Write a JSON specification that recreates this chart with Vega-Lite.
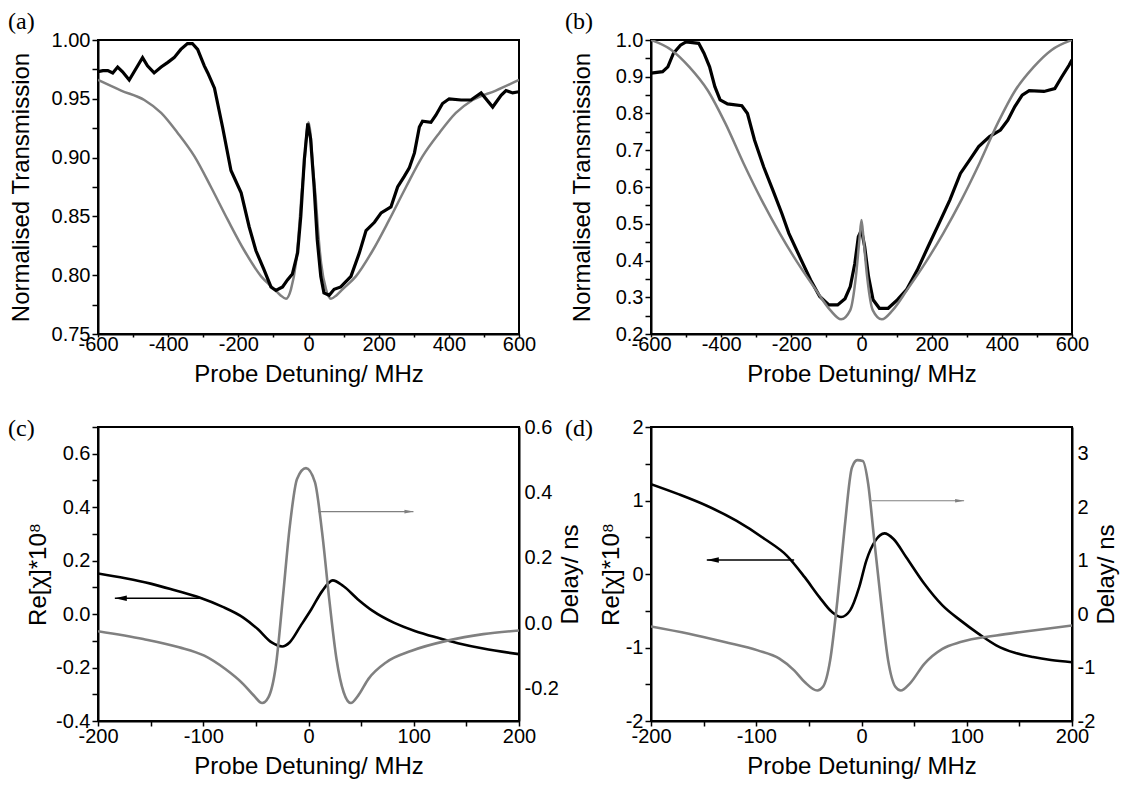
{
  "$schema": "https://vega.github.io/schema/vega-lite/v6.json",
  "background": "white",
  "autosize": {"type": "pad"},
  "padding": {"left": 7, "top": 9, "right": 5, "bottom": 5},
  "columns": 2,
  "bounds": "flush",
  "spacing": {"row": 93, "column": 132},
  "datasets": {
    "a_data": [
      {"x": -600, "y": 0.973}, {"x": -586, "y": 0.974}, {"x": -572, "y": 0.974}, {"x": -558, "y": 0.972}, {"x": -544, "y": 0.977},
      {"x": -530, "y": 0.973}, {"x": -511, "y": 0.966}, {"x": -497, "y": 0.973}, {"x": -483, "y": 0.98}, {"x": -473, "y": 0.985},
      {"x": -459, "y": 0.978}, {"x": -440, "y": 0.972}, {"x": -420, "y": 0.977}, {"x": -401, "y": 0.981}, {"x": -383, "y": 0.985},
      {"x": -364, "y": 0.992}, {"x": -345, "y": 0.997}, {"x": -331, "y": 0.997}, {"x": -316, "y": 0.992}, {"x": -297, "y": 0.978},
      {"x": -287, "y": 0.972}, {"x": -268, "y": 0.959}, {"x": -245, "y": 0.926}, {"x": -221, "y": 0.889}, {"x": -192, "y": 0.87},
      {"x": -169, "y": 0.841}, {"x": -150, "y": 0.821}, {"x": -126, "y": 0.804}, {"x": -107, "y": 0.79}, {"x": -93, "y": 0.787},
      {"x": -74, "y": 0.79}, {"x": -60, "y": 0.796}, {"x": -46, "y": 0.801}, {"x": -31, "y": 0.819}, {"x": -22, "y": 0.85},
      {"x": -12, "y": 0.898}, {"x": -2, "y": 0.929}, {"x": 6, "y": 0.916}, {"x": 16, "y": 0.875}, {"x": 25, "y": 0.83},
      {"x": 35, "y": 0.799}, {"x": 44, "y": 0.785}, {"x": 59, "y": 0.783}, {"x": 73, "y": 0.788}, {"x": 92, "y": 0.79},
      {"x": 121, "y": 0.799}, {"x": 145, "y": 0.819}, {"x": 164, "y": 0.838}, {"x": 188, "y": 0.845}, {"x": 207, "y": 0.853},
      {"x": 235, "y": 0.858}, {"x": 254, "y": 0.875}, {"x": 273, "y": 0.884}, {"x": 287, "y": 0.891}, {"x": 302, "y": 0.904},
      {"x": 316, "y": 0.926}, {"x": 325, "y": 0.931}, {"x": 349, "y": 0.93}, {"x": 363, "y": 0.936}, {"x": 382, "y": 0.946},
      {"x": 401, "y": 0.95}, {"x": 435, "y": 0.949}, {"x": 463, "y": 0.949}, {"x": 492, "y": 0.955}, {"x": 525, "y": 0.943},
      {"x": 549, "y": 0.953}, {"x": 563, "y": 0.957}, {"x": 582, "y": 0.955}, {"x": 600, "y": 0.956}
    ],
    "a_fit": [
      {"x": -600, "y": 0.966}, {"x": -534, "y": 0.957}, {"x": -468, "y": 0.949}, {"x": -420, "y": 0.938}, {"x": -373, "y": 0.921},
      {"x": -325, "y": 0.901}, {"x": -278, "y": 0.875}, {"x": -230, "y": 0.847}, {"x": -183, "y": 0.821}, {"x": -135, "y": 0.799},
      {"x": -97, "y": 0.788}, {"x": -80, "y": 0.783}, {"x": -64, "y": 0.78}, {"x": -50, "y": 0.788}, {"x": -36, "y": 0.81},
      {"x": -28, "y": 0.835}, {"x": -21, "y": 0.864}, {"x": -12, "y": 0.894}, {"x": -5, "y": 0.922}, {"x": 0, "y": 0.93},
      {"x": 5, "y": 0.922}, {"x": 12, "y": 0.894}, {"x": 21, "y": 0.864}, {"x": 28, "y": 0.835}, {"x": 36, "y": 0.81},
      {"x": 50, "y": 0.788}, {"x": 64, "y": 0.78}, {"x": 80, "y": 0.783}, {"x": 97, "y": 0.788}, {"x": 135, "y": 0.799},
      {"x": 183, "y": 0.821}, {"x": 230, "y": 0.847}, {"x": 278, "y": 0.875}, {"x": 325, "y": 0.901}, {"x": 373, "y": 0.921},
      {"x": 420, "y": 0.938}, {"x": 468, "y": 0.949}, {"x": 534, "y": 0.957}, {"x": 600, "y": 0.966}
    ],
    "b_data": [
      {"x": -600, "y": 0.91}, {"x": -567, "y": 0.914}, {"x": -552, "y": 0.927}, {"x": -536, "y": 0.964}, {"x": -516, "y": 0.986},
      {"x": -500, "y": 0.995}, {"x": -464, "y": 0.991}, {"x": -449, "y": 0.964}, {"x": -433, "y": 0.927}, {"x": -418, "y": 0.873},
      {"x": -403, "y": 0.837}, {"x": -382, "y": 0.826}, {"x": -341, "y": 0.821}, {"x": -325, "y": 0.8}, {"x": -305, "y": 0.728},
      {"x": -279, "y": 0.655}, {"x": -253, "y": 0.592}, {"x": -227, "y": 0.528}, {"x": -207, "y": 0.474}, {"x": -176, "y": 0.41},
      {"x": -145, "y": 0.347}, {"x": -119, "y": 0.302}, {"x": -93, "y": 0.279}, {"x": -68, "y": 0.279}, {"x": -47, "y": 0.296},
      {"x": -32, "y": 0.329}, {"x": -19, "y": 0.392}, {"x": -9, "y": 0.465}, {"x": 0, "y": 0.483}, {"x": 9, "y": 0.438},
      {"x": 20, "y": 0.356}, {"x": 33, "y": 0.293}, {"x": 51, "y": 0.27}, {"x": 76, "y": 0.27}, {"x": 102, "y": 0.293},
      {"x": 128, "y": 0.32}, {"x": 159, "y": 0.374}, {"x": 190, "y": 0.438}, {"x": 221, "y": 0.501}, {"x": 252, "y": 0.565},
      {"x": 282, "y": 0.637}, {"x": 308, "y": 0.673}, {"x": 334, "y": 0.71}, {"x": 365, "y": 0.737}, {"x": 396, "y": 0.755},
      {"x": 417, "y": 0.782}, {"x": 437, "y": 0.819}, {"x": 458, "y": 0.85}, {"x": 478, "y": 0.862}, {"x": 520, "y": 0.86},
      {"x": 551, "y": 0.868}, {"x": 571, "y": 0.9}, {"x": 592, "y": 0.932}, {"x": 600, "y": 0.946}
    ],
    "b_fit": [
      {"x": -600, "y": 1.0}, {"x": -542, "y": 0.973}, {"x": -491, "y": 0.927}, {"x": -439, "y": 0.864}, {"x": -388, "y": 0.773},
      {"x": -336, "y": 0.664}, {"x": -285, "y": 0.565}, {"x": -233, "y": 0.474}, {"x": -181, "y": 0.392}, {"x": -130, "y": 0.32},
      {"x": -89, "y": 0.265}, {"x": -58, "y": 0.24}, {"x": -32, "y": 0.265}, {"x": -16, "y": 0.356}, {"x": -6, "y": 0.456},
      {"x": 0, "y": 0.51}, {"x": 6, "y": 0.456}, {"x": 16, "y": 0.356}, {"x": 32, "y": 0.265}, {"x": 58, "y": 0.24},
      {"x": 89, "y": 0.265}, {"x": 130, "y": 0.32}, {"x": 181, "y": 0.392}, {"x": 233, "y": 0.474}, {"x": 285, "y": 0.565},
      {"x": 336, "y": 0.664}, {"x": 388, "y": 0.773}, {"x": 439, "y": 0.864}, {"x": 491, "y": 0.927}, {"x": 542, "y": 0.973},
      {"x": 600, "y": 1.0}
    ],
    "c_re": [
      {"x": -200, "y": 0.152}, {"x": -174, "y": 0.134}, {"x": -150, "y": 0.114}, {"x": -127, "y": 0.089}, {"x": -103, "y": 0.061},
      {"x": -82, "y": 0.028}, {"x": -62, "y": -0.013}, {"x": -48, "y": -0.057}, {"x": -35, "y": -0.106}, {"x": -25, "y": -0.121},
      {"x": -18, "y": -0.106}, {"x": -7.5, "y": -0.044}, {"x": 2.7, "y": 0.018}, {"x": 13, "y": 0.086}, {"x": 23, "y": 0.126},
      {"x": 33, "y": 0.105}, {"x": 47, "y": 0.055}, {"x": 61, "y": 0.012}, {"x": 81, "y": -0.032}, {"x": 101, "y": -0.063},
      {"x": 122, "y": -0.088}, {"x": 142, "y": -0.109}, {"x": 166, "y": -0.129}, {"x": 200, "y": -0.15}
    ],
    "c_delay": [
      {"x": -200, "y": -0.025}, {"x": -157, "y": -0.049}, {"x": -123, "y": -0.074}, {"x": -99, "y": -0.1}, {"x": -79, "y": -0.141},
      {"x": -62, "y": -0.187}, {"x": -52, "y": -0.222}, {"x": -44, "y": -0.245}, {"x": -38, "y": -0.227}, {"x": -31, "y": -0.131},
      {"x": -24.5, "y": 0.073}, {"x": -17.7, "y": 0.298}, {"x": -10.9, "y": 0.441}, {"x": -2.4, "y": 0.474}, {"x": 6.1, "y": 0.431},
      {"x": 12.9, "y": 0.278}, {"x": 19.7, "y": 0.073}, {"x": 26.6, "y": -0.11}, {"x": 33.4, "y": -0.212}, {"x": 40.2, "y": -0.245},
      {"x": 47, "y": -0.223}, {"x": 57, "y": -0.171}, {"x": 74, "y": -0.12}, {"x": 98, "y": -0.085}, {"x": 132, "y": -0.054},
      {"x": 166, "y": -0.034}, {"x": 200, "y": -0.023}
    ],
    "c_arrow_re": [{"x": -101, "x2": -184, "y": 0.059}],
    "c_arrow_delay": [{"x": 9.5, "x2": 99.7, "y": 0.341}],
    "d_re": [
      {"x": -200, "y": 1.223}, {"x": -174, "y": 1.087}, {"x": -147, "y": 0.929}, {"x": -119, "y": 0.725}, {"x": -92, "y": 0.477},
      {"x": -71, "y": 0.251}, {"x": -54, "y": -0.043}, {"x": -40, "y": -0.314}, {"x": -28, "y": -0.518}, {"x": -19.4, "y": -0.586},
      {"x": -10.8, "y": -0.495}, {"x": -2.2, "y": -0.179}, {"x": 4.6, "y": 0.183}, {"x": 13.2, "y": 0.454}, {"x": 21.8, "y": 0.553},
      {"x": 30.4, "y": 0.477}, {"x": 42.5, "y": 0.228}, {"x": 59.7, "y": -0.133}, {"x": 76.9, "y": -0.427}, {"x": 94, "y": -0.631},
      {"x": 111, "y": -0.811}, {"x": 128, "y": -0.97}, {"x": 145.7, "y": -1.072}, {"x": 163, "y": -1.13}, {"x": 180, "y": -1.17},
      {"x": 200, "y": -1.2}
    ],
    "d_delay": [
      {"x": -200, "y": -0.231}, {"x": -164, "y": -0.368}, {"x": -130, "y": -0.524}, {"x": -98.6, "y": -0.679}, {"x": -78, "y": -0.834},
      {"x": -64, "y": -1.052}, {"x": -54, "y": -1.27}, {"x": -42, "y": -1.43}, {"x": -36.6, "y": -1.36}, {"x": -29.8, "y": -0.866},
      {"x": -22.9, "y": 0.254}, {"x": -16, "y": 1.62}, {"x": -9.1, "y": 2.74}, {"x": -4, "y": 2.88}, {"x": 1.2, "y": 2.866},
      {"x": 6.4, "y": 2.43}, {"x": 11.5, "y": 1.5}, {"x": 18.4, "y": 0.254}, {"x": 25.3, "y": -0.866}, {"x": 32.2, "y": -1.36},
      {"x": 37.3, "y": -1.43}, {"x": 45.9, "y": -1.3}, {"x": 59.7, "y": -0.93}, {"x": 76.9, "y": -0.65}, {"x": 94, "y": -0.524},
      {"x": 128, "y": -0.4}, {"x": 163, "y": -0.306}, {"x": 200, "y": -0.213}
    ],
    "d_arrow_re": [{"x": -64, "x2": -147, "y": 0.192}],
    "d_arrow_delay": [{"x": 9.8, "x2": 97.5, "y": 2.12}]
  },
  "concat": [
    {
      "width": 421, "height": 294,
      "title": {"text": "(a)", "dx": -90, "offset": -4},
      "layer": [
        {
          "data": {"name": "a_fit"},
          "mark": {"type": "line", "color": "#808080", "strokeWidth": 2.5, "clip": true, "interpolate": "monotone"},
          "encoding": {
            "x": {"field": "x", "type": "quantitative", "scale": {"domain": [-600, 600], "nice": false, "zero": false},
              "axis": {"title": "Probe Detuning/ MHz", "values": [-600, -500, -400, -300, -200, -100, 0, 100, 200, 300, 400, 500, 600],
                "labelExpr": "datum.value % 200 == 0 ? '' + datum.value : ''", "tickSize": 3, "labelPadding": -3, "titlePadding": 8,
                "encode": {"ticks": {"update": {"y2": {"signal": "datum.value % 200 != 0 ? 3 : 5"}}}}}},
            "y": {"field": "y", "type": "quantitative", "scale": {"domain": [0.75, 1.0], "nice": false, "zero": false},
              "axis": {"title": "Normalised Transmission", "values": [0.75, 0.775, 0.8, 0.825, 0.85, 0.875, 0.9, 0.925, 0.95, 0.975, 1.0],
                "labelExpr": "abs(datum.value*20 - round(datum.value*20)) < 0.001 ? format(datum.value, '.2f') : ''",
                "tickSize": 6, "titlePadding": 18,
                "encode": {"ticks": {"update": {"x2": {"signal": "abs(datum.value*20 - round(datum.value*20)) > 0.001 ? -3 : -6"}}}}}}
          }
        },
        {
          "data": {"name": "a_data"},
          "mark": {"type": "line", "color": "black", "strokeWidth": 3.2, "clip": true},
          "encoding": {
            "x": {"field": "x", "type": "quantitative", "scale": {"domain": [-600, 600], "nice": false, "zero": false},
              "axis": {"title": "Probe Detuning/ MHz", "values": [-600, -500, -400, -300, -200, -100, 0, 100, 200, 300, 400, 500, 600],
                "labelExpr": "datum.value % 200 == 0 ? '' + datum.value : ''", "tickSize": 3, "labelPadding": -3, "titlePadding": 8,
                "encode": {"ticks": {"update": {"y2": {"signal": "datum.value % 200 != 0 ? 3 : 5"}}}}}},
            "y": {"field": "y", "type": "quantitative", "scale": {"domain": [0.75, 1.0], "nice": false, "zero": false},
              "axis": {"title": "Normalised Transmission", "values": [0.75, 0.775, 0.8, 0.825, 0.85, 0.875, 0.9, 0.925, 0.95, 0.975, 1.0],
                "labelExpr": "abs(datum.value*20 - round(datum.value*20)) < 0.001 ? format(datum.value, '.2f') : ''",
                "tickSize": 6, "titlePadding": 18,
                "encode": {"ticks": {"update": {"x2": {"signal": "abs(datum.value*20 - round(datum.value*20)) > 0.001 ? -3 : -6"}}}}}}
          }
        }
      ]
    },
    {
      "width": 421, "height": 294,
      "title": {"text": "(b)", "dx": -86, "offset": -4},
      "layer": [
        {
          "data": {"name": "b_data"},
          "mark": {"type": "line", "color": "black", "strokeWidth": 3.2, "clip": true},
          "encoding": {
            "x": {"field": "x", "type": "quantitative", "scale": {"domain": [-600, 600], "nice": false, "zero": false},
              "axis": {"title": "Probe Detuning/ MHz", "values": [-600, -500, -400, -300, -200, -100, 0, 100, 200, 300, 400, 500, 600],
                "labelExpr": "datum.value % 200 == 0 ? '' + datum.value : ''", "tickSize": 3, "labelPadding": -3, "titlePadding": 8,
                "encode": {"ticks": {"update": {"y2": {"signal": "datum.value % 200 != 0 ? 3 : 5"}}}}}},
            "y": {"field": "y", "type": "quantitative", "scale": {"domain": [0.2, 1.0], "nice": false, "zero": false},
              "axis": {"title": "Normalised Transmission", "values": [0.2, 0.25, 0.3, 0.35, 0.4, 0.45, 0.5, 0.55, 0.6, 0.65, 0.7, 0.75, 0.8, 0.85, 0.9, 0.95, 1.0],
                "labelExpr": "abs(datum.value*10 - round(datum.value*10)) < 0.001 ? format(datum.value, '.1f') : ''",
                "tickSize": 6, "titlePadding": 21,
                "encode": {"ticks": {"update": {"x2": {"signal": "abs(datum.value*10 - round(datum.value*10)) > 0.001 ? -3 : -6"}}}}}}
          }
        },
        {
          "data": {"name": "b_fit"},
          "mark": {"type": "line", "color": "#808080", "strokeWidth": 2.5, "clip": true, "interpolate": "monotone"},
          "encoding": {
            "x": {"field": "x", "type": "quantitative", "scale": {"domain": [-600, 600], "nice": false, "zero": false},
              "axis": {"title": "Probe Detuning/ MHz", "values": [-600, -500, -400, -300, -200, -100, 0, 100, 200, 300, 400, 500, 600],
                "labelExpr": "datum.value % 200 == 0 ? '' + datum.value : ''", "tickSize": 3, "labelPadding": -3, "titlePadding": 8,
                "encode": {"ticks": {"update": {"y2": {"signal": "datum.value % 200 != 0 ? 3 : 5"}}}}}},
            "y": {"field": "y", "type": "quantitative", "scale": {"domain": [0.2, 1.0], "nice": false, "zero": false},
              "axis": {"title": "Normalised Transmission", "values": [0.2, 0.25, 0.3, 0.35, 0.4, 0.45, 0.5, 0.55, 0.6, 0.65, 0.7, 0.75, 0.8, 0.85, 0.9, 0.95, 1.0],
                "labelExpr": "abs(datum.value*10 - round(datum.value*10)) < 0.001 ? format(datum.value, '.1f') : ''",
                "tickSize": 6, "titlePadding": 21,
                "encode": {"ticks": {"update": {"x2": {"signal": "abs(datum.value*10 - round(datum.value*10)) > 0.001 ? -3 : -6"}}}}}}
          }
        }
      ]
    },
    {
      "width": 421, "height": 294,
      "title": {"text": "(c)", "dx": -90, "dy": 20, "offset": -4},
      "resolve": {"scale": {"y": "independent"}},
      "layer": [
        {
          "encoding": {
            "x": {"field": "x", "type": "quantitative", "scale": {"domain": [-200, 200], "nice": false, "zero": false},
              "axis": {"title": "Probe Detuning/ MHz", "values": [-200, -150, -100, -50, 0, 50, 100, 150, 200],
                "labelExpr": "datum.value % 100 == 0 ? '' + datum.value : ''", "tickSize": 5, "labelPadding": 0, "titlePadding": 8,
                "encode": {"ticks": {"update": {"y2": {"signal": "datum.value % 100 != 0 ? 3 : 5"}}}}}},
            "y": {"field": "y", "type": "quantitative", "scale": {"domain": [-0.4, 0.7], "nice": false, "zero": false},
              "axis": {"title": "Re[χ]*10⁸", "values": [-0.4, -0.3, -0.2, -0.1, 0, 0.1, 0.2, 0.3, 0.4, 0.5, 0.6, 0.7],
                "labelExpr": "abs(datum.value*5 - round(datum.value*5)) < 0.001 ? replace(format(datum.value, '.1f'), '\u2212', '-') : ''",
                "tickSize": 6, "titlePadding": 5,
                "encode": {"ticks": {"update": {"x2": {"signal": "abs(datum.value*5 - round(datum.value*5)) > 0.001 ? -3 : -6"}}}}}}
          },
          "layer": [
            {"data": {"name": "c_re"}, "mark": {"type": "line", "color": "black", "strokeWidth": 2.6, "clip": true, "interpolate": "monotone"}},
            {"data": {"name": "c_arrow_re"}, "mark": {"type": "rule", "color": "black", "strokeWidth": 1.5},
              "encoding": {"x2": {"field": "x2"}}},
            {"data": {"name": "c_arrow_re"}, "mark": {"type": "point", "shape": "M0,0L2.4,-0.55L2.4,0.55Z", "filled": true, "color": "black", "opacity": 1, "size": 100},
              "encoding": {"x": {"field": "x2", "type": "quantitative", "scale": {"domain": [-200, 200], "nice": false, "zero": false},
                "axis": {"title": "Probe Detuning/ MHz", "values": [-200, -150, -100, -50, 0, 50, 100, 150, 200],
                  "labelExpr": "datum.value % 100 == 0 ? '' + datum.value : ''", "tickSize": 5, "labelPadding": 0, "titlePadding": 8,
                  "encode": {"ticks": {"update": {"y2": {"signal": "datum.value % 100 != 0 ? 3 : 5"}}}}}}}}
          ]
        },
        {
          "encoding": {
            "x": {"field": "x", "type": "quantitative", "scale": {"domain": [-200, 200], "nice": false, "zero": false},
              "axis": {"title": "Probe Detuning/ MHz", "values": [-200, -150, -100, -50, 0, 50, 100, 150, 200],
                "labelExpr": "datum.value % 100 == 0 ? '' + datum.value : ''", "tickSize": 5, "labelPadding": 0, "titlePadding": 8,
                "encode": {"ticks": {"update": {"y2": {"signal": "datum.value % 100 != 0 ? 3 : 5"}}}}}},
            "y": {"field": "y", "type": "quantitative", "scale": {"domain": [-0.3, 0.6], "nice": false, "zero": false},
              "axis": {"orient": "right", "title": "Delay/ ns", "titleAngle": -90, "titleBaseline": "top", "values": [-0.3, -0.2, -0.1, 0, 0.1, 0.2, 0.3, 0.4, 0.5, 0.6],
                "labelExpr": "abs(datum.value*5 - round(datum.value*5)) < 0.001 ? replace(format(datum.value, '.1f'), '\u2212', '-') : ''",
                "tickSize": 0, "labelPadding": 5, "titlePadding": 0,
                "encode": {"ticks": {"update": {"x2": {"signal": "abs(datum.value*5 - round(datum.value*5)) > 0.001 ? -3 : -6"}}}}}}
          },
          "layer": [
            {"data": {"name": "c_delay"}, "mark": {"type": "line", "color": "#808080", "strokeWidth": 2.6, "clip": true, "interpolate": "monotone"}},
            {"data": {"name": "c_arrow_delay"}, "mark": {"type": "rule", "color": "#808080", "strokeWidth": 1.2},
              "encoding": {"x2": {"field": "x2"}}},
            {"data": {"name": "c_arrow_delay"}, "mark": {"type": "point", "shape": "M0,0L-2.25,-0.45L-2.25,0.45Z", "filled": true, "color": "#808080", "opacity": 1, "size": 64},
              "encoding": {"x": {"field": "x2", "type": "quantitative", "scale": {"domain": [-200, 200], "nice": false, "zero": false},
                "axis": {"title": "Probe Detuning/ MHz", "values": [-200, -150, -100, -50, 0, 50, 100, 150, 200],
                  "labelExpr": "datum.value % 100 == 0 ? '' + datum.value : ''", "tickSize": 5, "labelPadding": 0, "titlePadding": 8,
                  "encode": {"ticks": {"update": {"y2": {"signal": "datum.value % 100 != 0 ? 3 : 5"}}}}}}}}
          ]
        }
      ]
    },
    {
      "width": 421, "height": 294,
      "title": {"text": "(d)", "dx": -86, "dy": 20, "offset": -4},
      "resolve": {"scale": {"y": "independent"}},
      "layer": [
        {
          "encoding": {
            "x": {"field": "x", "type": "quantitative", "scale": {"domain": [-200, 200], "nice": false, "zero": false},
              "axis": {"title": "Probe Detuning/ MHz", "values": [-200, -150, -100, -50, 0, 50, 100, 150, 200],
                "labelExpr": "datum.value % 100 == 0 ? '' + datum.value : ''", "tickSize": 5, "labelPadding": 0, "titlePadding": 8,
                "encode": {"ticks": {"update": {"y2": {"signal": "datum.value % 100 != 0 ? 3 : 5"}}}}}},
            "y": {"field": "y", "type": "quantitative", "scale": {"domain": [-2, 2], "nice": false, "zero": false},
              "axis": {"title": "Re[χ]*10⁸", "values": [-2, -1.5, -1, -0.5, 0, 0.5, 1, 1.5, 2],
                "labelExpr": "datum.value % 1 == 0 ? '' + datum.value : ''",
                "tickSize": 6, "titlePadding": 2,
                "encode": {"ticks": {"update": {"x2": {"signal": "datum.value % 1 != 0 ? -3 : -6"}}}}}}
          },
          "layer": [
            {"data": {"name": "d_re"}, "mark": {"type": "line", "color": "black", "strokeWidth": 2.6, "clip": true, "interpolate": "monotone"}},
            {"data": {"name": "d_arrow_re"}, "mark": {"type": "rule", "color": "black", "strokeWidth": 1.5},
              "encoding": {"x2": {"field": "x2"}}},
            {"data": {"name": "d_arrow_re"}, "mark": {"type": "point", "shape": "M0,0L2.4,-0.55L2.4,0.55Z", "filled": true, "color": "black", "opacity": 1, "size": 100},
              "encoding": {"x": {"field": "x2", "type": "quantitative", "scale": {"domain": [-200, 200], "nice": false, "zero": false},
                "axis": {"title": "Probe Detuning/ MHz", "values": [-200, -150, -100, -50, 0, 50, 100, 150, 200],
                  "labelExpr": "datum.value % 100 == 0 ? '' + datum.value : ''", "tickSize": 5, "labelPadding": 0, "titlePadding": 8,
                  "encode": {"ticks": {"update": {"y2": {"signal": "datum.value % 100 != 0 ? 3 : 5"}}}}}}}}
          ]
        },
        {
          "encoding": {
            "x": {"field": "x", "type": "quantitative", "scale": {"domain": [-200, 200], "nice": false, "zero": false},
              "axis": {"title": "Probe Detuning/ MHz", "values": [-200, -150, -100, -50, 0, 50, 100, 150, 200],
                "labelExpr": "datum.value % 100 == 0 ? '' + datum.value : ''", "tickSize": 5, "labelPadding": 0, "titlePadding": 8,
                "encode": {"ticks": {"update": {"y2": {"signal": "datum.value % 100 != 0 ? 3 : 5"}}}}}},
            "y": {"field": "y", "type": "quantitative", "scale": {"domain": [-2, 3.5], "nice": false, "zero": false},
              "axis": {"orient": "right", "title": "Delay/ ns", "titleAngle": -90, "titleBaseline": "top", "values": [-2, -1.5, -1, -0.5, 0, 0.5, 1, 1.5, 2, 2.5, 3, 3.5],
                "labelExpr": "datum.value % 1 == 0 ? '' + datum.value : ''",
                "tickSize": 0, "labelPadding": 5, "titlePadding": 0,
                "encode": {"ticks": {"update": {"x2": {"signal": "datum.value % 1 != 0 ? -3 : -6"}}}}}}
          },
          "layer": [
            {"data": {"name": "d_delay"}, "mark": {"type": "line", "color": "#808080", "strokeWidth": 2.6, "clip": true, "interpolate": "monotone"}},
            {"data": {"name": "d_arrow_delay"}, "mark": {"type": "rule", "color": "#808080", "strokeWidth": 1.2},
              "encoding": {"x2": {"field": "x2"}}},
            {"data": {"name": "d_arrow_delay"}, "mark": {"type": "point", "shape": "M0,0L-2.25,-0.45L-2.25,0.45Z", "filled": true, "color": "#808080", "opacity": 1, "size": 64},
              "encoding": {"x": {"field": "x2", "type": "quantitative", "scale": {"domain": [-200, 200], "nice": false, "zero": false},
                "axis": {"title": "Probe Detuning/ MHz", "values": [-200, -150, -100, -50, 0, 50, 100, 150, 200],
                  "labelExpr": "datum.value % 100 == 0 ? '' + datum.value : ''", "tickSize": 5, "labelPadding": 0, "titlePadding": 8,
                  "encode": {"ticks": {"update": {"y2": {"signal": "datum.value % 100 != 0 ? 3 : 5"}}}}}}}}
          ]
        }
      ]
    }
  ],
  "config": {
    "view": {"stroke": "black", "strokeWidth": 2},
    "axis": {"domainColor": "black", "domainWidth": 2, "tickColor": "black", "tickWidth": 1.5, "grid": false,
      "labelFont": "Liberation Sans", "labelFontSize": 20, "labelColor": "black", "labelPadding": 2, "labelOverlap": false, "labelFlush": false,
      "titleFont": "Liberation Sans", "titleFontSize": 24, "titleFontWeight": "normal", "titleColor": "black"},
    "title": {"font": "Liberation Serif", "fontSize": 24, "fontWeight": "normal", "color": "black", "anchor": "start", "frame": "group"}
  }
}
